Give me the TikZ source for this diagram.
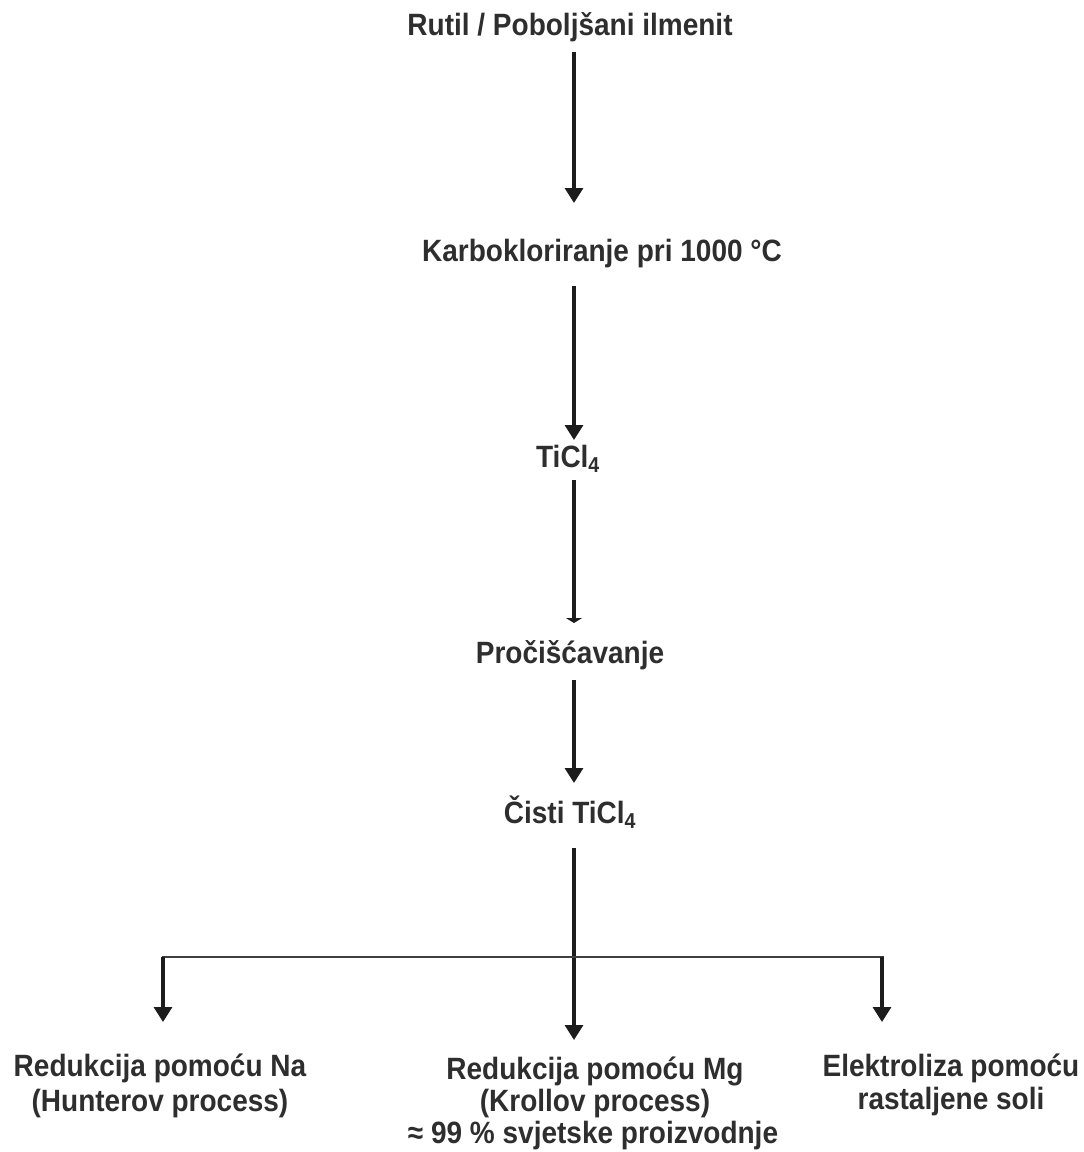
\documentclass[tikz,border=0pt]{standalone}
\usepackage{fontspec}
\setmainfont{Liberation Sans}
\usetikzlibrary{arrows.meta,calc}
\definecolor{txt}{HTML}{2E2E2E}
\definecolor{ln}{HTML}{1C1C1C}
\newcommand{\stretchtxt}[1]{\scalebox{1}[1.1]{#1}}
\begin{document}
\begin{tikzpicture}[x=1pt,y=-1pt,
  lbl/.style={anchor=base,inner sep=0pt,font=\fontsize{28}{32}\selectfont\bfseries,text=txt},
  arr/.style={line width=3.2pt,draw=ln,-{Triangle[width=18pt,length=15pt]}},
  arrflat/.style={line width=3.2pt,draw=ln,-{Triangle[width=16pt,length=5pt]}},
  hline/.style={line width=2.4pt,draw=black!75}]
\useasboundingbox[fill=white] (0,0) rectangle (1084,1152);
\coordinate (ax) at (574,0);
% main chain
\node[lbl] (n1) at (570,35) {\stretchtxt{Rutil / Poboljšani ilmenit}};
\node[lbl] (n2) at (602,261) {\stretchtxt{Karbokloriranje pri 1000 °C}};
\node[lbl] (n3) at (568,467) {\stretchtxt{TiCl\textsubscript{4}}};
\node[lbl] (n4) at (570,663) {\stretchtxt{Pročišćavanje}};
\node[lbl] (n5) at (570,823) {\stretchtxt{Čisti TiCl\textsubscript{4}}};
% bottom left
\node[lbl] (l1) at (160,1076) {\stretchtxt{Redukcija pomoću Na}};
\node[lbl] (l2) at (160,1111) {\stretchtxt{(Hunterov process)}};
% bottom middle
\node[lbl] (m1) at (595,1079) {\stretchtxt{Redukcija pomoću Mg}};
\node[lbl] (m2) at (595,1111) {\stretchtxt{(Krollov process)}};
\node[lbl] (m3) at (593,1143) {\stretchtxt{≈ 99 \% svjetske proizvodnje}};
% bottom right
\node[lbl] (r1) at (951,1076) {\stretchtxt{Elektroliza pomoću}};
\node[lbl] (r2) at (951,1109) {\stretchtxt{rastaljene soli}};
% vertical arrows
\draw[arr] ($(n1.base -| ax)+(0,17)$) -- ($(n2.base -| ax)+(0,-58)$);
\draw[arr] ($(n2.base -| ax)+(0,25)$) -- ($(n3.base -| ax)+(0,-27)$);
\draw[arrflat] ($(n3.base -| ax)+(0,13)$) -- ($(n4.base -| ax)+(0,-40)$);
\draw[arr] ($(n4.base -| ax)+(0,17)$) -- ($(n5.base -| ax)+(0,-40)$);
\draw[arr] ($(n5.base -| ax)+(0,25)$) -- ($(m1.base -| ax)+(0,-39)$);
% branches
\coordinate (bL) at (163,957);
\coordinate (bR) at (882,957);
\draw[hline] ($(bL)+(-1.5,0)$) -- ($(bR)+(1.5,0)$);
\draw[arr] (bL) -- ($(l1.base -| bL)+(0,-54)$);
\draw[arr] (bR) -- ($(r1.base -| bR)+(0,-54)$);
\end{tikzpicture}
\end{document}
